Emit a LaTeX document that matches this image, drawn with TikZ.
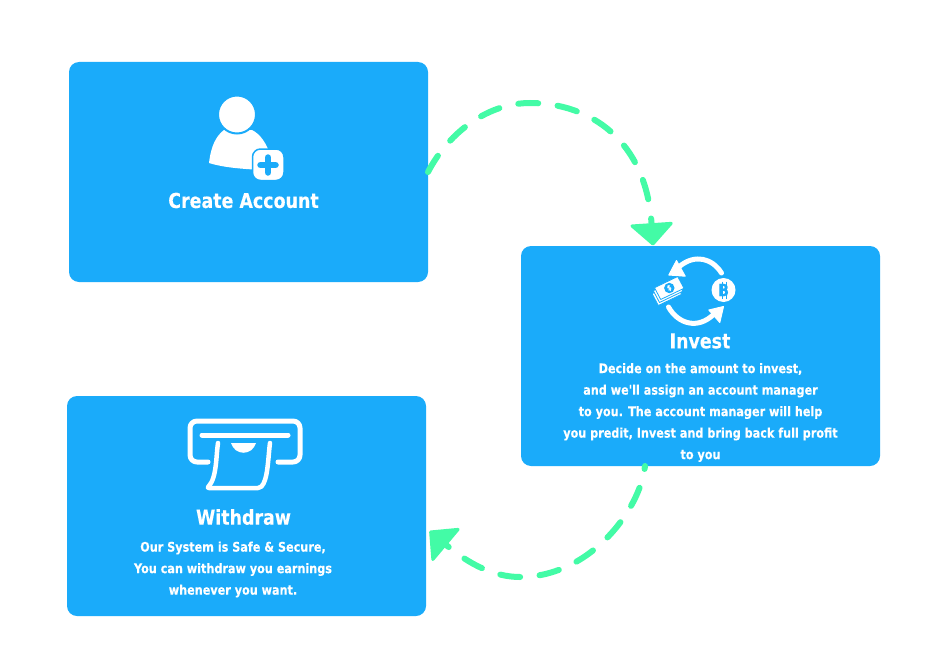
\documentclass[tikz,border=0pt]{standalone}
\usepackage{fontspec}
\setmainfont{DejaVu Sans}[Ligatures=TeXOff,BoldFont={DejaVu Sans Bold},BoldFeatures={FakeStretch=0.85,FakeBold=0.15}]
\usetikzlibrary{arrows.meta}
\definecolor{boxblue}{HTML}{1AABFA}
\definecolor{flowgreen}{HTML}{43FBA6}
\tikzset{
  box/.style={fill=boxblue,draw=none,rounded corners=10pt,minimum width=359pt,minimum height=220pt,inner sep=0pt,outer sep=0pt},
  title/.style={text=white,font=\bfseries\fontsize{20.5}{24}\selectfont,inner sep=0pt,anchor=center},
  body/.style={text=white,font=\bfseries\fontsize{13.2}{21.5}\selectfont,align=center,inner sep=0pt,anchor=center},
  flow/.style={draw=flowgreen,line width=6pt,line cap=round,dash pattern=on 20pt off 19.5pt},
  flowtip/.style={-{Triangle[width=46pt,length=23pt,round,line width=3pt]}},
  icon/.style={draw=white,line cap=round,line join=round},
}
\begin{document}
\begin{tikzpicture}[x=1pt,y=-1pt]
\useasboundingbox (0,0) rectangle (939,669);
\node[box] (a) at (248.5,172) {};
\node[box] (b) at (700.5,356) {};
\node[box] (c) at (246.5,506) {};
\coordinate (bin) at (653,245.5);
\coordinate (bout) at (645,466);
\coordinate (cin) at (429.5,531);
% connectors
\draw[flow,flowtip,dash phase=1pt] (a.east) .. controls (450,130) and (490,103) .. (530,103) .. controls (590,103) and (646,140) .. (bin);
\draw[flow,flowtip,dash phase=17pt] (bout) .. controls (640,510) and (590,577) .. (520,577) .. controls (495,577) and (470,565) .. (cin);
% person icon
\fill[white] (209,163) .. controls (211,146) and (216,136) .. (224,130) -- (252,130) .. controls (260,134) and (267,143) .. (271,158) -- (262,170) .. controls (245,169) and (225,168) .. cycle;
\fill[white,draw=boxblue,line width=2pt] (237,114.5) circle (19);
\fill[white,draw=boxblue,line width=1.5pt,rounded corners=8pt] (252.5,149) rectangle (284,180.5);
\draw[boxblue,line width=6.5pt,line cap=round] (268,157.5) -- (268,172.5) (260.5,165) -- (275.5,165);
% invest icon
\draw[icon,line width=5pt] (721.5,273) .. controls (712,258) and (695,254) .. (680,266);
\fill[white,line join=round,draw=white,line width=1pt] (668.8,275) -- (676.5,260.5) -- (685.2,276.2) -- cycle;
\draw[icon,line width=5pt] (668.5,307) .. controls (678,324) and (698,330) .. (714,314);
\fill[white,line join=round,draw=white,line width=1pt] (723.5,306.5) -- (708.8,310) -- (719.8,322.5) -- cycle;
\fill[white] (723.5,290) circle (12);
\node[inner sep=0pt,text=boxblue,font=\bfseries\fontsize{17}{17}\selectfont] (btc) at (723.5,290) {B};
\draw[boxblue,line width=1pt] (722,281.5) -- (722,298.5) (726,281.5) -- (726,298.5);
\foreach \d in {6,3,0}{
  \fill[white,draw=boxblue,line width=0.8pt,line join=round] (654.5-\d*0.4,287.7+\d) -- (677.7-\d*0.4,276.5+\d) -- (684-\d*0.4,288.3+\d) -- (660.7-\d*0.4,299.5+\d) -- cycle;
}
\fill[boxblue] (669.3,288) circle (5.2);
\node[inner sep=0pt,text=white,font=\bfseries\fontsize{7}{7}\selectfont,rotate=25] (usd) at (669.3,288) {\$};
% withdraw icon
\draw[icon,line width=5pt,rounded corners=7pt] (208,462) -- (190,462) -- (190,421) -- (300,421) -- (300,462) -- (278,462);
\draw[icon,line width=5pt] (202,435) -- (288,435);
\draw[icon,line width=4.5pt,rounded corners=2pt] (218,443) .. controls (216,455) and (217,478) .. (207,488) -- (260,488) .. controls (268,480) and (268,458) .. (270,443);
\fill[white] (231,443) .. controls (235,456) and (252,456) .. (256,443) -- cycle;
% text
\node[title] (t1) at (243.5,200.5) {Create Account};
\node[title] (t2) at (700,341) {Invest};
\node[title] (t3) at (243.5,517) {Withdraw};
\node[body] (d2) at (700.5,412.5) {Decide on the amount to invest,\\and we'll assign an account manager\\to you. The account manager will help\\you predit, Invest and bring back full profit\\to you};
\node[body] (d3) at (233,569.5) {Our System is Safe \& Secure,\\You can withdraw you earnings\\whenever you want.};
\end{tikzpicture}
\end{document}
